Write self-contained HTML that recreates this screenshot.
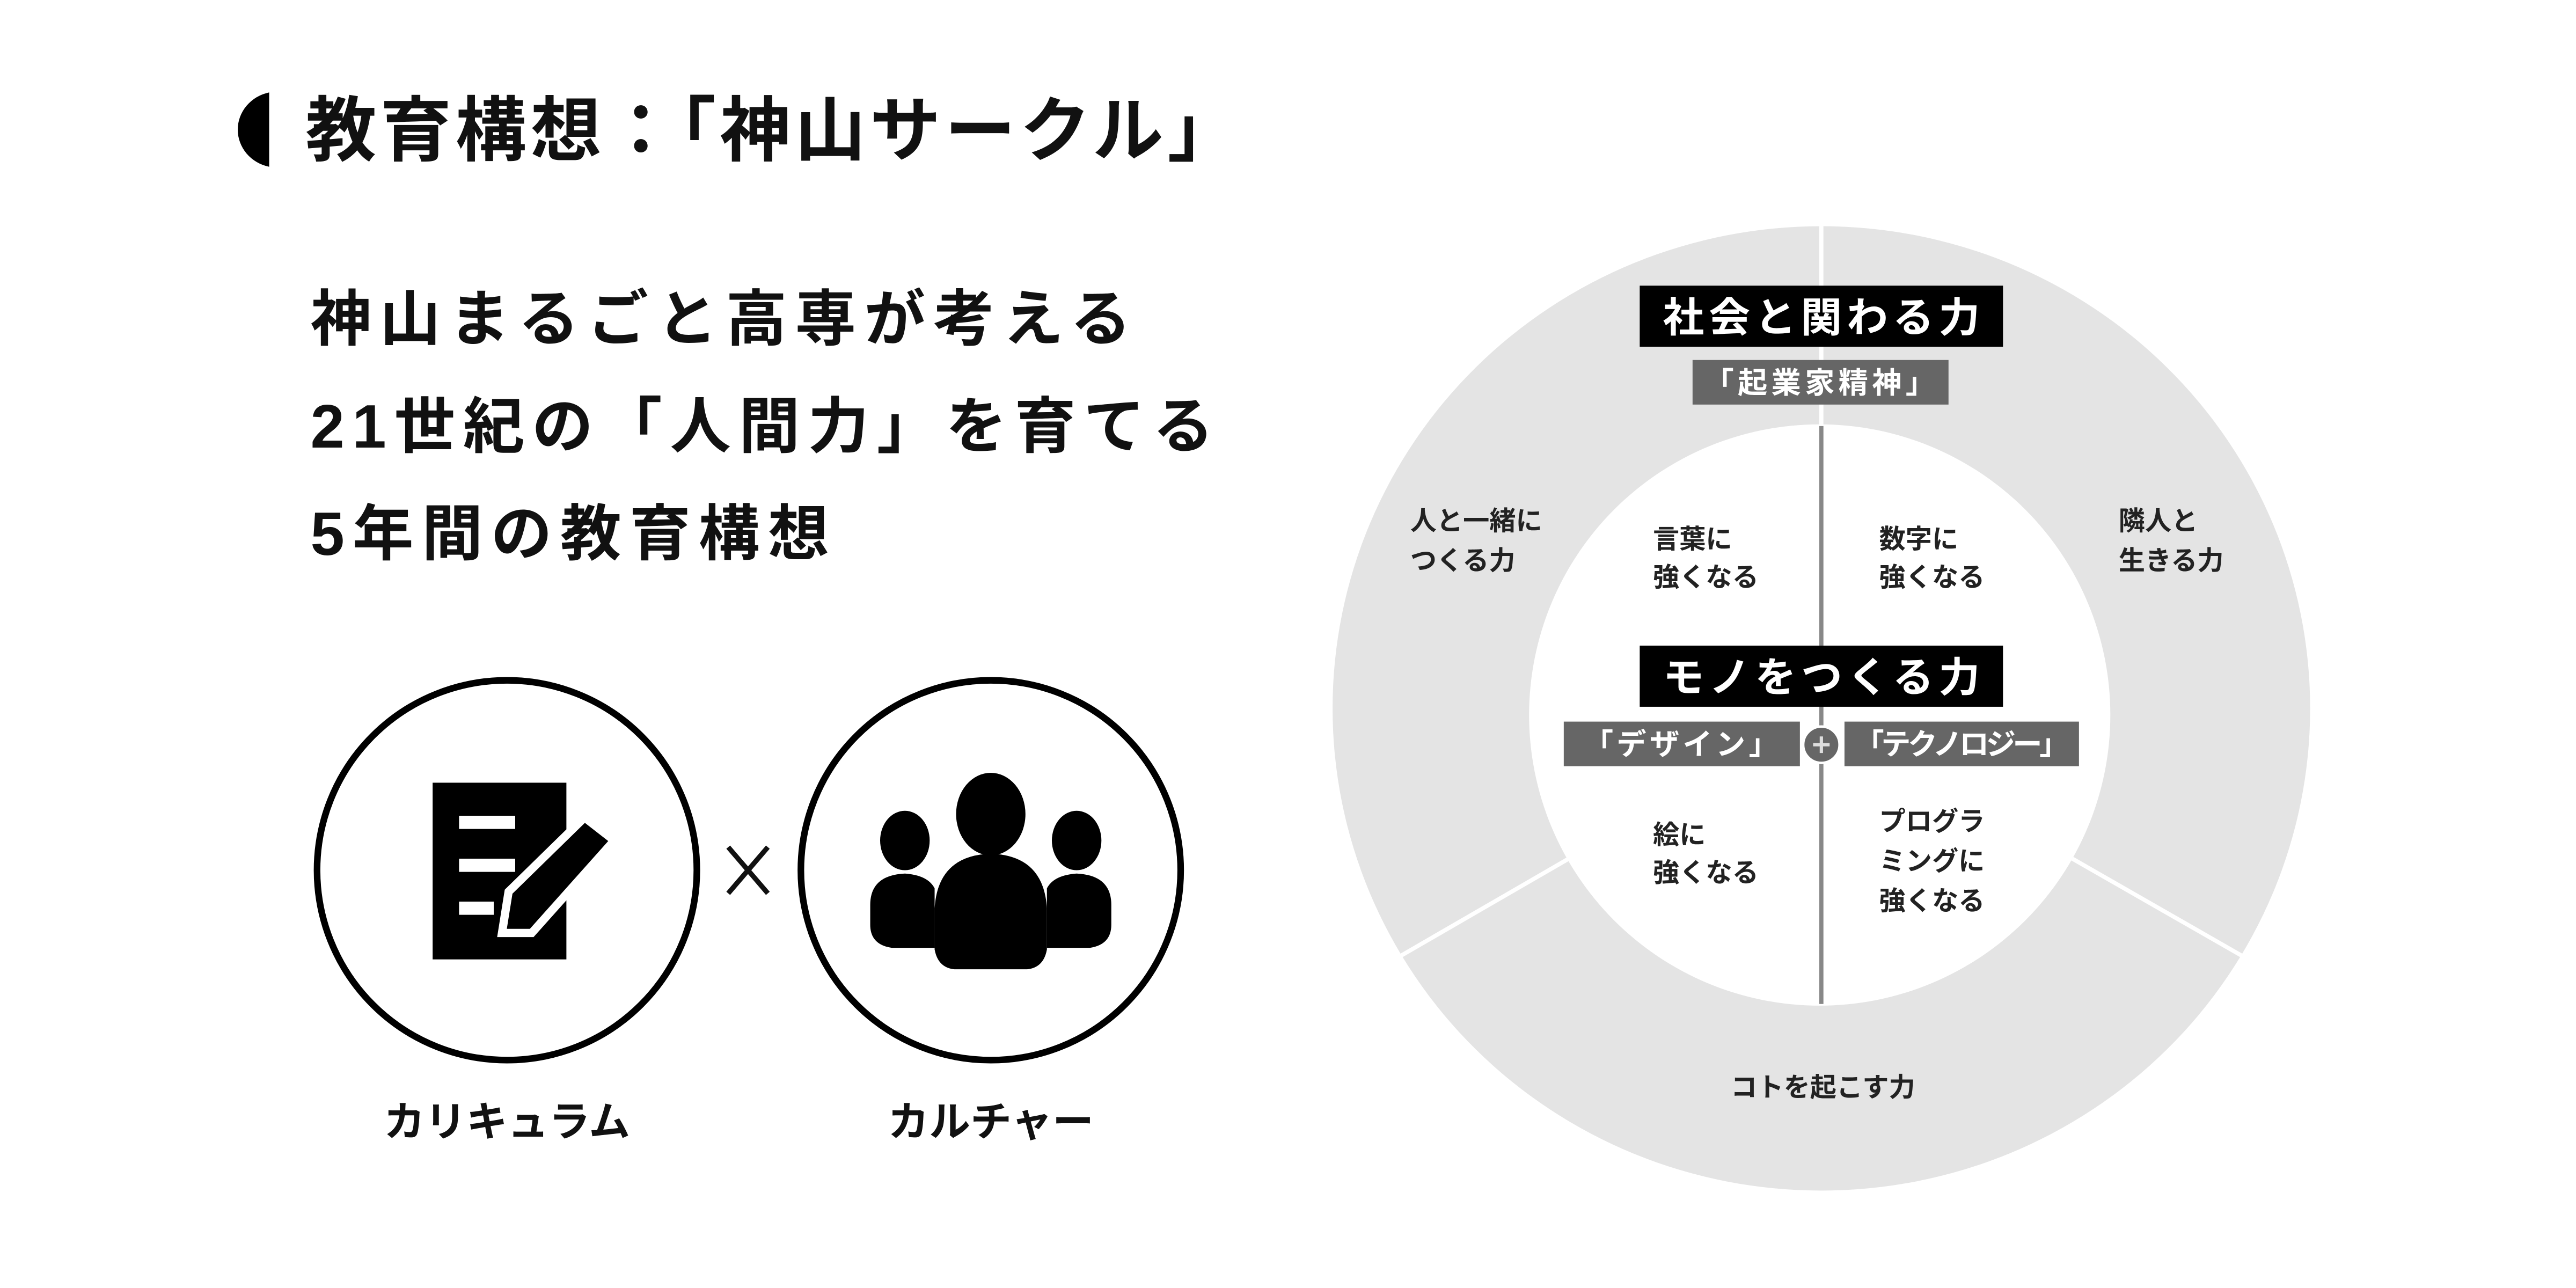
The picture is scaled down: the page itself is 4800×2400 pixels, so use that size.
<!DOCTYPE html>
<html><head><meta charset="utf-8"><style>
html,body{margin:0;padding:0;background:#fff;}
svg{display:block;}
text{font-family:"Liberation Sans","Noto Sans CJK JP",sans-serif;font-weight:bold;}
</style></head><body>
<svg width="4800" height="2400" viewBox="0 0 1560 780" xmlns="http://www.w3.org/2000/svg">
<rect width="1560" height="780" fill="#fff"/>
<!-- title -->
<path d="M163,56 A24,23 0 0 0 163,101 Z" fill="#000"/>
<text x="185" y="94" font-size="43" fill="#111" textLength="565" lengthAdjust="spacing">教育構想：「神山サークル」</text>
<text x="188" y="206" font-size="37" fill="#111" textLength="497" lengthAdjust="spacing">神山まるごと高専が考える</text>
<text x="188" y="271" font-size="37" fill="#111" textLength="547" lengthAdjust="spacing">21世紀の「人間力」を育てる</text>
<text x="188" y="336" font-size="37" fill="#111" textLength="314" lengthAdjust="spacing">5年間の教育構想</text>
<!-- left circles -->
<circle cx="307" cy="527" r="115" fill="#fff" stroke="#000" stroke-width="4"/>
<circle cx="600" cy="527" r="115" fill="#fff" stroke="#000" stroke-width="4"/>
<path d="M441,513 L465,541 M465,513 L441,541" stroke="#111" stroke-width="3"/>
<!-- doc icon -->
<rect x="262" y="474" width="81" height="107" fill="#000"/>
<rect x="278" y="494" width="34" height="8" fill="#fff"/>
<rect x="278" y="520" width="34" height="8" fill="#fff"/>
<rect x="278" y="546" width="21" height="8" fill="#fff"/>
<polygon points="308,540 354,495 372,509 322,565 304,565" fill="#000" stroke="#fff" stroke-width="5"/>
<!-- people icon -->
<ellipse cx="600" cy="493" rx="21" ry="25" fill="#000"/>
<ellipse cx="548" cy="509" rx="15" ry="18" fill="#000"/>
<ellipse cx="652" cy="509" rx="15" ry="18" fill="#000"/>
<path d="M527,548 Q527,530 548,529 Q562,530 566,538 L566,574 L540,574 Q527,572 527,560 Z" fill="#000"/>
<path d="M673,548 Q673,530 652,529 Q638,530 634,538 L634,574 L660,574 Q673,572 673,560 Z" fill="#000"/>
<path d="M566,550 Q568,518 600,517 Q632,518 634,550 L634,575 Q632,586 622,587 L578,587 Q568,586 566,575 Z" fill="#000"/>
<text x="307" y="688" font-size="25" fill="#111" text-anchor="middle">カリキュラム</text>
<text x="600" y="688" font-size="25" fill="#111" text-anchor="middle">カルチャー</text>
<!-- big circle -->
<ellipse cx="1103" cy="429" rx="296" ry="292" fill="#e4e4e4"/>
<ellipse cx="1102" cy="433" rx="176" ry="176" fill="#fff"/>
<line x1="1103" y1="136" x2="1103" y2="258" stroke="#fff" stroke-width="2.5"/>
<line x1="950" y1="520" x2="848" y2="579" stroke="#fff" stroke-width="2.5"/>
<line x1="1255" y1="520" x2="1358" y2="579" stroke="#fff" stroke-width="2.5"/>
<line x1="1103" y1="258" x2="1103" y2="608" stroke="#888" stroke-width="2.5"/>
<rect x="993" y="173" width="220" height="37" fill="#000"/>
<text x="1103" y="201" font-size="25" fill="#fff" text-anchor="middle" textLength="192" lengthAdjust="spacing">社会と関わる力</text>
<rect x="1025" y="218" width="155" height="27" fill="#666"/>
<text x="1102" y="238" font-size="18" fill="#fff" text-anchor="middle" textLength="140" lengthAdjust="spacing">「起業家精神」</text>
<rect x="993" y="391" width="220" height="37" fill="#000"/>
<text x="1103" y="419" font-size="25" fill="#fff" text-anchor="middle" textLength="192" lengthAdjust="spacing">モノをつくる力</text>
<rect x="947" y="437" width="143" height="27" fill="#666"/>
<text x="1018" y="457" font-size="18" fill="#fff" text-anchor="middle" textLength="118" lengthAdjust="spacing">「デザイン」</text>
<rect x="1117" y="437" width="142" height="27" fill="#666"/>
<text x="1188" y="457" font-size="18" fill="#fff" text-anchor="middle" textLength="130" lengthAdjust="spacing">「テクノロジー」</text>
<circle cx="1103" cy="451" r="11" fill="#666" stroke="#fff" stroke-width="1.5"/>
<path d="M1098,451 H1108 M1103,446 V456" stroke="#ddd" stroke-width="2"/>
<g font-size="16" fill="#222">
<text x="854" y="321">人と一緒に</text>
<text x="854" y="345">つくる力</text>
<text x="1001" y="332">言葉に</text>
<text x="1001" y="355">強くなる</text>
<text x="1138" y="332">数字に</text>
<text x="1138" y="355">強くなる</text>
<text x="1283" y="321">隣人と</text>
<text x="1283" y="345">生きる力</text>
<text x="1001" y="511">絵に</text>
<text x="1001" y="534">強くなる</text>
<text x="1138" y="503">プログラ</text>
<text x="1138" y="527">ミングに</text>
<text x="1138" y="551">強くなる</text>
<text x="1104" y="664" text-anchor="middle">コトを起こす力</text>
</g>
</svg>
</body></html>
